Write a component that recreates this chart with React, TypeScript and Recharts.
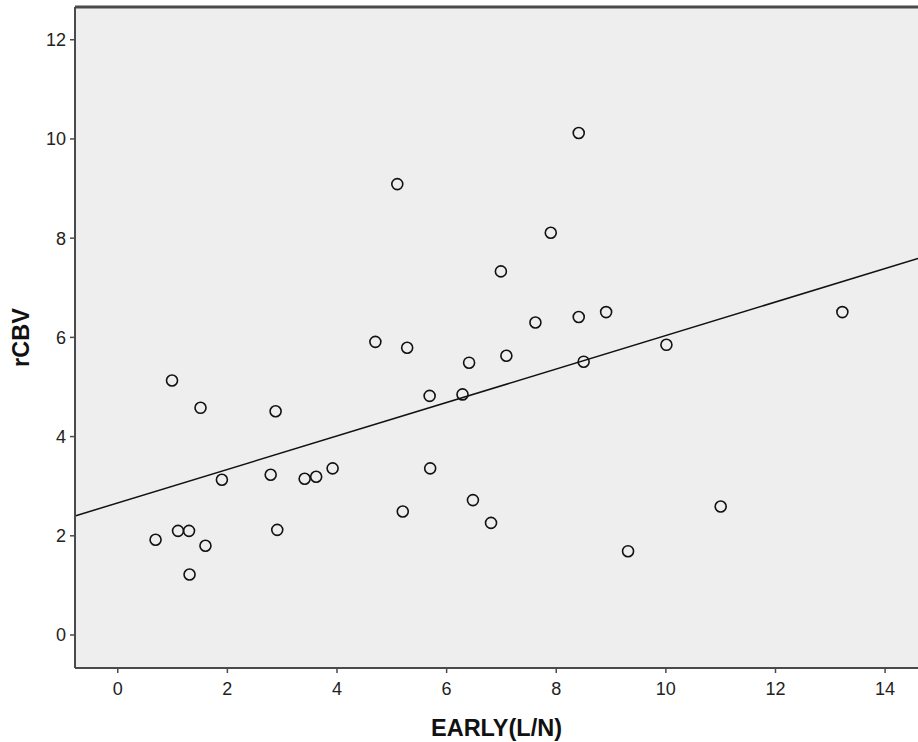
import React from 'react'
import {
  ScatterChart,
  Scatter,
  XAxis,
  YAxis,
  CartesianGrid,
  ReferenceLine,
} from 'recharts'

// EARLY(L/N) values
const early = [
  0.69, 0.99, 1.1, 1.3, 1.31, 1.51, 1.6, 1.9, 2.79, 2.88, 2.91, 3.41,
  3.62, 3.92, 4.7, 5.1, 5.2, 5.28, 5.69, 5.7, 6.29, 6.41, 6.48, 6.81,
  6.99, 7.09, 7.62, 7.9, 8.41, 8.41, 8.5, 8.91, 9.31, 10.01, 11.0, 13.22,
]
// rCBV values
const rcbv = [
  1.92, 5.13, 2.1, 2.1, 1.22, 4.58, 1.8, 3.13, 3.23, 4.51, 2.12, 3.15,
  3.19, 3.36, 5.91, 9.09, 2.49, 5.79, 4.82, 3.36, 4.85, 5.49, 2.72, 2.26,
  7.33, 5.63, 6.3, 8.11, 10.12, 6.41, 5.51, 6.51, 1.69, 5.85, 2.59, 6.51,
]

// fit line end points (at the plot edges)
const fitX = [-0.78, 14.6]
const fitY = [2.4, 7.59]

const xTicks = [0, 2, 4, 6, 8, 10, 12, 14]
const yTicks = [0, 2, 4, 6, 8, 10, 12]
const xDomain = [-0.78, 14.6]
const yDomain = [-0.665, 12.66]

const points = early.map((x, i) => ({ x, y: rcbv[i] }))

const FONT = '"Liberation Sans", Arial, sans-serif'
const FRAME = '#4a4a4a'

function OpenCircle(props: any) {
  const { cx, cy } = props
  if (cx == null || cy == null) return null
  return <circle cx={cx} cy={cy} r={5.5} fill="none" stroke="#111" strokeWidth={1.6} />
}

export default function App() {
  return (
    <div style={{ position: 'absolute', left: 0, top: 0, width: 918, height: 742, background: '#fff' }}>
      <ScatterChart
        width={918}
        height={742}
        margin={{ top: 7, right: 0, bottom: 0, left: 0 }}
        style={{ fontFamily: FONT }}
      >
        <CartesianGrid fill="#eeeeee" horizontal={false} vertical={false} />
        <XAxis
          type="number"
          dataKey="x"
          domain={xDomain}
          ticks={xTicks}
          allowDataOverflow
          height={74}
          tickSize={5}
          tickMargin={9}
          axisLine={{ stroke: FRAME, strokeWidth: 2 }}
          tickLine={{ stroke: FRAME, strokeWidth: 1.5 }}
          tick={{ fill: '#222', fontSize: 18, fontFamily: FONT }}
          label={{
            value: 'EARLY(L/N)',
            position: 'insideBottom',
            offset: 6,
            style: { fill: '#111', fontSize: 23.5, fontWeight: 'bold', fontFamily: FONT },
          }}
        />
        <YAxis
          type="number"
          dataKey="y"
          domain={yDomain}
          ticks={yTicks}
          allowDataOverflow
          width={75}
          tickSize={5}
          tickMargin={4}
          axisLine={{ stroke: FRAME, strokeWidth: 2 }}
          tickLine={{ stroke: FRAME, strokeWidth: 1.5 }}
          tick={{ fill: '#222', fontSize: 18, fontFamily: FONT }}
          label={{
            value: 'rCBV',
            angle: -90,
            position: 'insideLeft',
            offset: 21,
            style: { fill: '#111', fontSize: 23.5, fontWeight: 'bold', fontFamily: FONT, textAnchor: 'middle' },
          }}
        />
        <ReferenceLine y={yDomain[1]} stroke={FRAME} strokeWidth={3} ifOverflow="extendDomain" />
        <ReferenceLine
          segment={[
            { x: fitX[0], y: fitY[0] },
            { x: fitX[1], y: fitY[1] },
          ]}
          stroke="#111"
          strokeWidth={1.5}
        />
        <Scatter data={points} shape={<OpenCircle />} isAnimationActive={false} />
      </ScatterChart>
    </div>
  )
}
